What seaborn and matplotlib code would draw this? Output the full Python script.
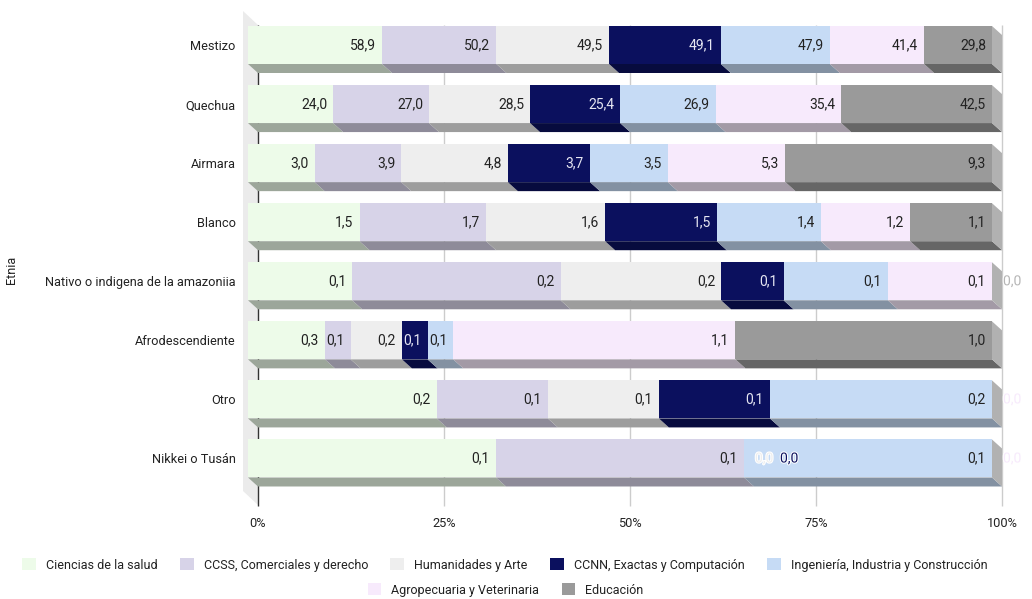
import numpy as np
import pandas as pd
import matplotlib
matplotlib.use("Agg")
import matplotlib.pyplot as plt
import matplotlib.patheffects as pe
from matplotlib.patches import Polygon, Rectangle
import seaborn as sns

# ---- data -----------------------------------------------------------------
etnias = ["Mestizo", "Quechua", "Airmara", "Blanco",
          "Nativo o indigena de la amazoniia", "Afrodescendiente",
          "Otro", "Nikkei o Tusán"]

areas = ["Ciencias de la salud", "CCSS, Comerciales y derecho",
         "Humanidades y Arte", "CCNN, Exactas y Computación",
         "Ingeniería, Industria y Construcción",
         "Agropecuaria y Veterinaria", "Educación"]

salud = [58.9, 24.0, 3.0, 1.5, 0.10, 0.3, 0.17, 0.1]
ccss = [50.2, 27.0, 3.9, 1.7, 0.20, 0.1, 0.10, 0.1]
humanidades = [49.5, 28.5, 4.8, 1.6, 0.154, 0.2, 0.10, 0.0]
ccnn = [49.1, 25.4, 3.7, 1.5, 0.06, 0.1, 0.10, 0.0]
ingenieria = [47.9, 26.9, 3.5, 1.4, 0.10, 0.1, 0.20, 0.1]
agropecuaria = [41.4, 35.4, 5.3, 1.2, 0.10, 1.1, 0.0, 0.0]
educacion = [29.8, 42.5, 9.3, 1.1, 0.0, 1.0, np.nan, np.nan]

colores = ["#edfbe9", "#d7d3e8", "#eeeeee", "#0b105e",
           "#c6dbf5", "#f7eafc", "#9a9a9a"]

series = [salud, ccss, humanidades, ccnn, ingenieria, agropecuaria, educacion]
df = pd.DataFrame(dict(zip(areas, series)), index=etnias)

# share of each area inside every row (100 % stacked)
vals = df.fillna(0.0).to_numpy()
share = vals / vals.sum(axis=1, keepdims=True) * 100
cum = np.cumsum(share, axis=1)

# ---- figure geometry (pixels) ---------------------------------------------
W, H = 1032, 599
X0, X1 = 248, 992          # front face of 0 % and 100 %
YT, YB = 10, 506
ROW0, STEP = 45, 59.07
DX, DY = 10, 9             # depth of the bars

sns.set_theme(style="white")
plt.rcParams["font.family"] = ["Roboto", "DejaVu Sans"]

fig = plt.figure(figsize=(W / 100, H / 100), dpi=100)
# the axes reach the back plane of the 100 % face
ax = fig.add_axes([X0 / W, 1 - YB / H, (X1 + DX - X0) / W, (YB - YT) / H])

ux = 100 / (X1 - X0)
uy = 1 / STEP
bar_h = 38 / STEP


def px(x, y):
    return ((x - X0) * ux, (y - ROW0) * uy)


def shade(c, f=0.66):
    r, g, b = matplotlib.colors.to_rgb(c)
    return (r * f, g * f, b * f)


# left wall of the 3D box
ax.add_patch(Polygon([px(243, 11), px(258, 25), px(258, 505), px(243, 491)],
                     closed=True, facecolor="#ebebeb", edgecolor="none",
                     zorder=0, clip_on=False))

# grid on the back plane
ticks = [0, 25, 50, 75, 100]
for v in ticks:
    xv = v + DX * ux
    ax.plot([xv, xv], [px(0, 25)[1], px(0, 506)[1]],
            color="#333333" if v == 0 else "#cccccc", lw=1,
            zorder=0.5, clip_on=False, solid_capstyle="butt")

# depth faces: bottom of every segment and right side of every bar
for i in range(len(etnias)):
    yb = i + bar_h / 2
    yt = i - bar_h / 2
    left = 0.0
    for k in range(len(areas)):
        right = cum[i, k]
        if right > left:
            ax.add_patch(Polygon([(left, yb), (right, yb),
                                  (right + DX * ux, yb + DY * uy),
                                  (left + DX * ux, yb + DY * uy)],
                                 closed=True, facecolor=shade(colores[k]),
                                 edgecolor="none", zorder=1))
        left = right
    ax.add_patch(Polygon([(100, yt), (100 + DX * ux, yt + DY * uy),
                          (100 + DX * ux, yb + DY * uy), (100, yb)],
                         closed=True, facecolor="#b1b1b1", edgecolor="none",
                         zorder=1, clip_on=False))

# front faces: cumulative bars drawn from the last area to the first
for k in reversed(range(len(areas))):
    sns.barplot(x=cum[:, k], y=etnias, order=etnias, orient="h",
                color=colores[k], saturation=1, width=bar_h,
                linewidth=0, ax=ax, zorder=2)

# value labels
halo = [pe.withStroke(linewidth=1.5, foreground="white")]
for i in range(len(etnias)):
    left = 0.0
    zero_x = None
    for k in range(len(areas)):
        v = df.iloc[i, k]
        right = cum[i, k]
        if np.isnan(v):
            left = right
            continue
        txt = f"{v:.1f}".replace(".", ",")
        if right > left:
            ax.text(right - 6 * ux, i, txt, ha="right", va="center",
                    fontsize=10, color="#e6e6f2" if k == 3 else "#222222",
                    zorder=4)
            zero_x = None
        else:
            xz = right + (DX + 1) * ux if zero_x is None else zero_x + 25 * ux
            ax.text(xz, i, txt, ha="left", va="center", fontsize=10,
                    color="#b5b5b5" if k == 6 else colores[k],
                    path_effects=halo, zorder=4, clip_on=False)
            zero_x = xz
        left = right

# axes cosmetics (ticks first, limits afterwards so they stay fixed)
ax.set_xticks([v + DX * ux for v in ticks], [f"{v}%" for v in ticks])
ax.set_yticks(range(len(etnias)), etnias)
ax.set_xlim(0, 100 + DX * ux)
ax.set_ylim(px(0, YB)[1], px(0, YT)[1])
ax.tick_params(axis="x", length=0, pad=8, labelsize=9.2, labelcolor="#222222")
ax.tick_params(axis="y", length=0, pad=9, labelsize=9.2, labelcolor="#222222")
ax.set_xlabel("")
ax.set_ylabel("Etnia", fontsize=9.2, color="#222222")
ax.yaxis.set_label_coords((18 - X0) / (X1 + DX - X0), (YB - 270) / (YB - YT))
for s in ax.spines.values():
    s.set_visible(False)
ax.grid(False)
ax.set_facecolor("none")

# legend in two centred rows
handles = [Rectangle((0, 0), 1, 1, facecolor=c, edgecolor="none") for c in colores]
common = dict(frameon=False, fontsize=9, handlelength=1.1, handleheight=1.1,
              handletextpad=0.8, columnspacing=1.8, borderpad=0,
              loc="center", labelcolor="#222222")
fig.legend(handles[:5], areas[:5], ncol=5,
           bbox_to_anchor=(0.489, 1 - 565 / H), **common)
fig.legend(handles[5:], areas[5:], ncol=2,
           bbox_to_anchor=(0.49, 1 - 590 / H), **common)

fig.savefig("out.png", dpi=100, facecolor="white")
